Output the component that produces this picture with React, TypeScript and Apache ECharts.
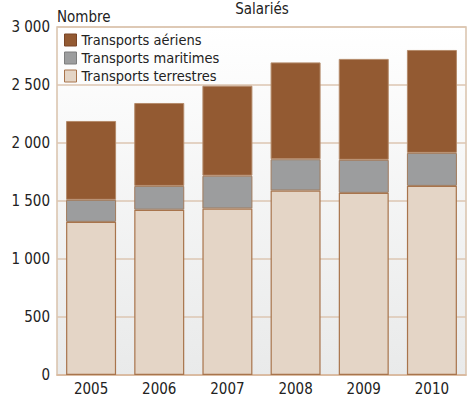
import React, { useEffect, useRef } from "react";
import * as echarts from "echarts";

const years = ["2005", "2006", "2007", "2008", "2009", "2010"];
const terrestres = [1320, 1425, 1435, 1590, 1570, 1630];
const maritimes = [190, 205, 283, 270, 285, 285];
const aeriens = [680, 715, 776, 835, 870, 887];
const yTicks = [0, 500, 1000, 1500, 2000, 2500, 3000];

const FONT = "'Liberation Sans Narrow', 'DejaVu Sans Condensed', 'Arial Narrow', sans-serif";

export default function App() {
  const ref = useRef<HTMLDivElement>(null);
  useEffect(() => {
    if (!ref.current) return;
    const chart = echarts.init(ref.current, null, { renderer: "svg" });
    const fmt = (v: number) => String(v).replace(/\B(?=(\d{3})+(?!\d))/g, " ");
    chart.setOption({
      animation: false,
      textStyle: { fontFamily: FONT },
      title: {
        text: "Salariés",
        left: 262,
        textAlign: "center",
        top: 0,
        padding: 0,
        textStyle: { fontFamily: FONT, fontSize: 15, fontWeight: "normal", color: "#222", lineHeight: 17 },
      },
      graphic: [
        {
          type: "text",
          left: 57,
          top: 9,
          style: { text: "Nombre", font: `15px ${FONT}`, fill: "#222" },
        },
      ],
      legend: {
        orient: "vertical",
        left: 64,
        top: 31,
        icon: "rect",
        itemWidth: 12,
        itemHeight: 12,
        itemGap: 0,
        padding: 0,
        textStyle: { fontFamily: FONT, fontSize: 14.5, color: "#222", lineHeight: 18 },
        data: [
          { name: "Transports aériens", itemStyle: { color: "#935a32", borderColor: "#7a4526", borderWidth: 1 } },
          { name: "Transports maritimes", itemStyle: { color: "#9c9d9e", borderColor: "#7d7d7d", borderWidth: 1 } },
          { name: "Transports terrestres", itemStyle: { color: "#e4d5c6", borderColor: "#a8744c", borderWidth: 1 } },
        ],
      },
      grid: {
        left: 57,
        right: 1,
        top: 27,
        bottom: 25,
        show: true,
        borderColor: "#d9c2ac",
        borderWidth: 1.5,
        backgroundColor: new echarts.graphic.LinearGradient(0, 0, 0, 1, [
          { offset: 0, color: "#ffffff" },
          { offset: 1, color: "#e9eaea" },
        ]),
      },
      xAxis: {
        type: "category",
        data: years,
        axisTick: { show: false },
        axisLine: { lineStyle: { color: "#d9b89c", width: 1.5 } },
        axisLabel: { fontFamily: FONT, fontSize: 15, color: "#222", margin: 6 },
      },
      yAxis: {
        type: "value",
        min: yTicks[0],
        max: yTicks[yTicks.length - 1],
        interval: 500,
        axisLine: { show: false },
        axisTick: { show: false },
        splitLine: { lineStyle: { color: "#dcc6b2", width: 1.5 } },
        axisLabel: { fontFamily: FONT, fontSize: 15, color: "#222", margin: 7, formatter: fmt },
      },
      series: [
        {
          name: "Transports terrestres",
          type: "bar",
          stack: "s",
          barWidth: 50,
          data: terrestres,
          itemStyle: { color: "#e4d5c6", borderColor: "#a8744c", borderWidth: 1.2 },
        },
        {
          name: "Transports maritimes",
          type: "bar",
          stack: "s",
          barWidth: 50,
          data: maritimes,
          itemStyle: { color: "#9c9d9e", borderColor: "#a07a5c", borderWidth: 1 },
        },
        {
          name: "Transports aériens",
          type: "bar",
          stack: "s",
          barWidth: 50,
          data: aeriens,
          itemStyle: { color: "#935a32", borderColor: "#b48a6a", borderWidth: 1 },
        },
      ],
    });
    return () => chart.dispose();
  }, []);
  return <div ref={ref} style={{ width: 467, height: 400, position: "absolute", left: 0, top: 0 }} />;
}
